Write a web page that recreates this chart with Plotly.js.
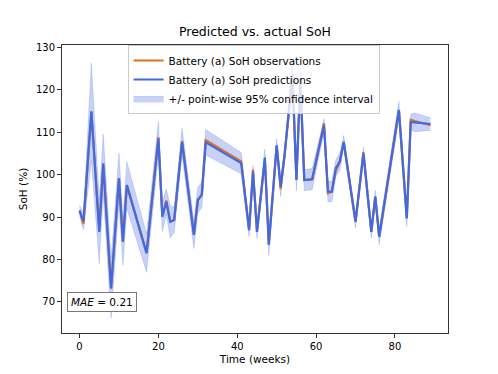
<!DOCTYPE html>
<html>
<head>
<meta charset="utf-8">
<script src="https://cdn.plot.ly/plotly-3.0.1.min.js"></script>
<style>
  html, body { margin: 0; padding: 0; background: #fff; }
  #plotDiv { width: 498px; height: 374px; }
</style>
</head>
<body>
<div id="plotDiv"></div>
<script>
// weeks with a measurement
var weeks = [0, 1, 3, 5, 6, 8, 10, 11, 12, 17, 20, 21, 22, 23, 24, 26, 29, 30, 31, 32,
  41, 43, 44, 45, 47, 48, 50, 51, 52, 54, 55, 56, 57, 59, 62, 63, 64, 65, 66, 67,
  70, 72, 74, 75, 76, 81, 83, 84, 85, 89];

var predicted = [91.5, 89.0, 114.8, 86.5, 102.6, 73.2, 99.1, 84.2, 97.5, 81.5, 108.5, 90.1, 93.6, 88.9, 89.3, 107.7, 85.8, 94.0, 95.2, 107.6,
  102.7, 86.9, 100.7, 86.5, 104.0, 83.5, 106.9, 97.1, 104.6, 123.5, 98.7, 122.5, 98.7, 98.9, 111.6, 96.0, 96.0, 101.5, 103.0, 107.7,
  88.9, 105.0, 86.5, 94.8, 85.4, 115.2, 89.7, 112.4, 112.3, 111.9];

var observed = [91.5, 88.4, 114.8, 86.8, 102.6, 73.2, 99.1, 84.2, 97.5, 81.5, 108.8, 90.1, 93.9, 88.9, 89.3, 107.9, 85.8, 94.0, 95.2, 108.1,
  103.1, 86.9, 101.2, 86.5, 103.6, 83.5, 106.9, 96.6, 104.6, 123.5, 98.7, 122.5, 98.7, 98.9, 112.1, 95.6, 96.0, 101.0, 103.0, 107.7,
  88.9, 105.3, 86.5, 94.8, 85.4, 115.2, 89.7, 112.9, 112.6, 111.6];

var ciLower = [90.3, 87.0, 103.3, 79.0, 95.6, 66.2, 93.1, 78.7, 92.0, 77.0, 104.5, 86.6, 90.6, 85.1, 86.3, 104.5, 82.6, 91.0, 92.2, 104.6,
  100.2, 85.4, 99.2, 85.0, 102.0, 81.0, 105.4, 94.8, 103.1, 120.5, 96.2, 119.5, 96.2, 96.4, 110.1, 93.6, 93.6, 99.5, 101.0, 106.2,
  87.4, 103.5, 85.0, 93.3, 83.4, 113.2, 87.7, 110.6, 110.1, 110.4];

var ciUpper = [92.7, 91.0, 126.3, 94.0, 109.6, 80.2, 105.1, 89.7, 103.0, 86.0, 112.5, 93.6, 96.6, 92.7, 92.3, 110.9, 89.0, 97.0, 98.2, 110.6,
  105.2, 88.4, 102.2, 88.0, 106.0, 86.0, 108.4, 99.4, 106.1, 126.5, 101.2, 125.5, 101.2, 101.4, 113.1, 98.4, 98.4, 103.5, 105.0, 109.2,
  90.4, 106.5, 88.0, 96.3, 87.4, 117.2, 91.7, 114.2, 114.5, 113.4];

var blue = 'royalblue';
var orange = '#e2711d';

var lowerTrace = {
  x: weeks, y: ciLower,
  type: 'scatter', mode: 'lines',
  line: {width: 0.6, color: 'rgba(65,105,225,0.35)'},
  showlegend: false, hoverinfo: 'skip'
};

var upperTrace = {
  x: weeks, y: ciUpper,
  type: 'scatter', mode: 'lines',
  fill: 'tonexty',
  fillcolor: 'rgba(65,105,225,0.3)',
  line: {width: 0.6, color: 'rgba(65,105,225,0.35)'},
  name: '+/- point-wise 95% confidence interval',
  legendrank: 3
};

var obsTrace = {
  x: weeks, y: observed,
  type: 'scatter', mode: 'lines',
  line: {width: 2.2, color: orange},
  name: 'Battery (a) SoH observations',
  legendrank: 1
};

var predTrace = {
  x: weeks, y: predicted,
  type: 'scatter', mode: 'lines',
  line: {width: 2.2, color: blue},
  name: 'Battery (a) SoH predictions',
  legendrank: 2
};

var axisStyle = {
  showline: true, mirror: true, linecolor: '#333', linewidth: 1,
  ticks: 'outside', ticklen: 4, tickcolor: '#333',
  showgrid: false, zeroline: false,
  tickfont: {size: 10, color: '#000'}
};

var layout = {
  width: 498, height: 374,
  margin: {l: 62, r: 50, t: 45, b: 41},
  paper_bgcolor: '#fff', plot_bgcolor: '#fff',
  font: {family: 'DejaVu Sans', color: '#000'},
  title: {text: 'Predicted vs. actual SoH', font: {size: 12.5}, x: 0.512, xanchor: 'center', y: 0.915, yanchor: 'middle'},
  xaxis: Object.assign({}, axisStyle, {
    range: [-4.45, 93.45], tickvals: [0, 20, 40, 60, 80],
    title: {text: 'Time (weeks)', font: {size: 10.5}, standoff: 4}
  }),
  yaxis: Object.assign({}, axisStyle, {
    range: [62.7, 130.5], tickvals: [70, 80, 90, 100, 110, 120, 130],
    title: {text: 'SoH (%)', font: {size: 10.5}, standoff: 6}
  }),
  legend: {
    x: 0.17, y: 1.0, xanchor: 'left', yanchor: 'top',
    traceorder: 'normal',
    bgcolor: 'rgba(255,255,255,0.8)', bordercolor: '#ccc', borderwidth: 1,
    font: {size: 10.5}, tracegroupgap: 0, itemwidth: 30
  },
  annotations: [{
    xref: 'paper', yref: 'paper', x: 0.013, y: 0.108, xanchor: 'left', yanchor: 'middle',
    text: '<i>MAE</i> = 0.21', showarrow: false,
    font: {size: 10.5},
    bgcolor: '#fff', bordercolor: '#777', borderwidth: 1, borderpad: 3
  }]
};

Plotly.newPlot('plotDiv', [lowerTrace, upperTrace, obsTrace, predTrace], layout, {staticPlot: true});
</script>
</body>
</html>
